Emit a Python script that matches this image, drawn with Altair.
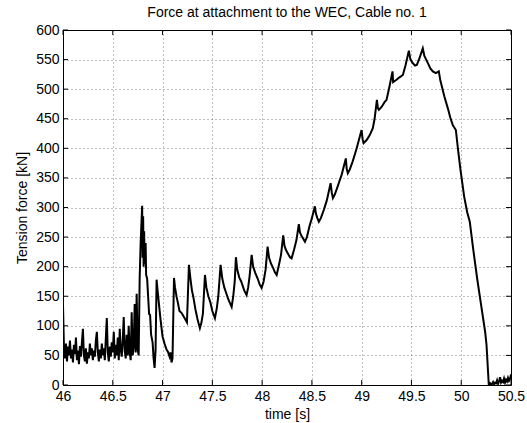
import altair as alt
import pandas as pd

# ---- data (time in s, force in kN) ----
time_pre = [46.00, 46.01, 46.02, 46.03, 46.04, 46.05, 46.06, 46.07, 46.08, 46.09,
            46.10, 46.11, 46.12, 46.13, 46.14, 46.15, 46.16, 46.17, 46.18, 46.19,
            46.20, 46.21, 46.22, 46.23, 46.24, 46.25, 46.26, 46.27, 46.28, 46.29,
            46.30, 46.31, 46.32, 46.33, 46.34, 46.35, 46.36, 46.37, 46.38, 46.39,
            46.40, 46.41, 46.42, 46.43, 46.44, 46.45, 46.46, 46.47, 46.48, 46.49,
            46.50, 46.51, 46.52, 46.53, 46.54, 46.55, 46.56, 46.57, 46.58, 46.59,
            46.60, 46.61, 46.62, 46.63, 46.64, 46.65, 46.66, 46.67, 46.68, 46.69,
            46.70, 46.71, 46.72, 46.73, 46.74, 46.75, 46.76, 46.77]
force_pre = [135, 60, 45, 70, 40, 65, 50, 75, 45, 60,
             38, 68, 52, 80, 42, 58, 35, 66, 48, 72,
             95, 50, 40, 62, 36, 55, 45, 70, 50, 62,
             42, 58, 48, 75, 90, 55, 40, 60, 45, 70,
             50, 62, 42, 78, 113, 55, 40, 65, 48, 72,
             55, 90, 45, 68, 50, 80, 42, 95, 60, 48,
             75, 115, 58, 45, 85, 50, 100, 55, 42, 123,
             50, 65, 137, 55, 154, 60, 50, 180]

time_peak = [46.78, 46.795, 46.80, 46.805, 46.81, 46.815, 46.82, 46.83, 46.835, 46.845,
             46.855, 46.865, 46.875, 46.885, 46.90, 46.91, 46.92, 46.93, 46.94, 46.95,
             46.965, 46.98, 47.00, 47.02, 47.04, 47.055, 47.07, 47.08, 47.09, 47.10]
force_peak = [240, 303, 215, 285, 200, 260, 205, 240, 186, 180,
              150, 120, 118, 85, 72, 45, 29, 60, 178, 160,
              135, 110, 82, 70, 60, 56, 48, 55, 38, 45]

time_ramp = [47.115, 47.125, 47.14, 47.155, 47.17, 47.19, 47.205, 47.225, 47.245, 47.265,
             47.28, 47.295, 47.31, 47.33, 47.35, 47.375, 47.39, 47.405, 47.426, 47.44,
             47.46, 47.48, 47.50, 47.526, 47.545, 47.56, 47.583, 47.60, 47.62, 47.64,
             47.66, 47.694, 47.71, 47.725, 47.737, 47.75, 47.77, 47.79, 47.82, 47.844,
             47.86, 47.875, 47.895, 47.91, 47.93, 47.955, 47.975, 47.995, 48.015, 48.035,
             48.055, 48.07, 48.09, 48.11, 48.13, 48.146, 48.165, 48.19, 48.212, 48.225,
             48.24, 48.26, 48.28, 48.296, 48.32, 48.345, 48.369, 48.38, 48.395, 48.41,
             48.43, 48.45, 48.475, 48.50, 48.53, 48.54, 48.555, 48.57, 48.59, 48.62,
             48.65, 48.688, 48.70, 48.711, 48.73, 48.76, 48.80, 48.841, 48.85, 48.861,
             48.88, 48.91, 48.95, 48.999, 49.01, 49.02, 49.05, 49.08, 49.112, 49.13,
             49.153, 49.163, 49.173, 49.20, 49.23, 49.25, 49.28, 49.31, 49.316, 49.35,
             49.38, 49.414, 49.44, 49.474, 49.49, 49.514, 49.535, 49.554, 49.58, 49.614,
             49.63, 49.665, 49.69, 49.715, 49.745, 49.775]
force_ramp = [181, 165, 150, 138, 125, 122, 118, 112, 106, 203,
              180, 160, 148, 128, 112, 96, 105, 120, 186, 165,
              150, 140, 125, 113, 130, 150, 203, 180, 165, 155,
              145, 132, 150, 175, 216, 195, 182, 175, 160, 152,
              165, 185, 220, 200, 190, 180, 170, 164, 175, 195,
              234, 215, 205, 198, 190, 186, 200, 220, 253, 235,
              228, 222, 216, 214, 228, 245, 272, 258, 252, 248,
              242, 250, 268, 282, 302, 290, 282, 276, 282, 296,
              312, 341, 325, 316, 322, 336, 356, 383, 365, 358,
              364, 378, 400, 431, 415, 409, 414, 422, 434, 450,
              482, 468, 465, 470, 478, 482, 505, 530, 512, 516,
              520, 524, 540, 565, 550, 544, 540, 541, 552, 569,
              556, 544, 535, 530, 527, 530]

time_drop = [49.79, 49.802, 49.83, 49.865, 49.89, 49.916, 49.935, 49.946, 49.97, 49.993,
             50.03, 50.06, 50.086, 50.12, 50.16, 50.20, 50.24, 50.254, 50.277,
             50.29, 50.30, 50.31, 50.32, 50.33, 50.34, 50.35, 50.36, 50.37, 50.38,
             50.39, 50.40, 50.41, 50.42, 50.43, 50.44, 50.45, 50.46, 50.47, 50.48,
             50.49, 50.50]
force_drop = [515, 507, 488, 468, 452, 439, 434, 431, 395, 363,
              318, 292, 276, 230, 180, 135, 90, 68, 0,
              3, 0, 2, 5, 1, 4, 3, 8, 2, 6,
              13, 4, 7, 5, 11, 4, 9, 6, 12, 7,
              10, 18]

x_ticks = [46, 46.5, 47, 47.5, 48, 48.5, 49, 49.5, 50, 50.5]
y_ticks = [0, 50, 100, 150, 200, 250, 300, 350, 400, 450, 500, 550, 600]

title_text = "Force at attachment to the WEC, Cable no. 1"
x_title = "time [s]"
y_title = "Tension force [kN]"

# ---- build tables ----
df = pd.DataFrame({
    "t": time_pre + time_peak + time_ramp + time_drop,
    "f": force_pre + force_peak + force_ramp + force_drop,
})
xt = pd.DataFrame({"t": x_ticks})
yt = pd.DataFrame({"f": y_ticks})

W, H = 448, 355
FONT = "Liberation Sans"
xscale = alt.Scale(domain=[46, 50.5], nice=False, zero=False)
yscale = alt.Scale(domain=[0, 600], nice=False, zero=False)

grid_common = dict(grid=True, gridColor="#000000", gridOpacity=0.5, gridDash=[1, 3],
                   gridWidth=1, domain=False, ticks=False, labelFont=FONT, labelFontSize=14,
                   labelColor="black", titleFont=FONT, titleFontSize=14, titleFontWeight="normal",
                   titleColor="black")

xaxis = alt.Axis(values=x_ticks, title=x_title, labelPadding=4, titlePadding=4,
                 labelFlush=False, labelOverlap=False, labelBound=False,
                 format="~g", **grid_common)
yaxis = alt.Axis(values=y_ticks, title=y_title, labelPadding=4, titlePadding=6,
                 labelOverlap=False, labelFlush=False, format="d", **grid_common)

line = alt.Chart(df).mark_line(color="black", strokeWidth=2, clip=True).encode(
    x=alt.X("t:Q", scale=xscale, axis=xaxis),
    y=alt.Y("f:Q", scale=yscale, axis=yaxis),
)

tick_len = 5
top_ticks = alt.Chart(xt).mark_rule(color="black", strokeWidth=1).encode(
    x=alt.X("t:Q", scale=xscale, axis=xaxis), y=alt.value(0), y2=alt.value(tick_len))
bot_ticks = alt.Chart(xt).mark_rule(color="black", strokeWidth=1).encode(
    x=alt.X("t:Q", scale=xscale, axis=xaxis), y=alt.value(H - tick_len), y2=alt.value(H))
left_ticks = alt.Chart(yt).mark_rule(color="black", strokeWidth=1).encode(
    y=alt.Y("f:Q", scale=yscale, axis=yaxis), x=alt.value(0), x2=alt.value(tick_len))
right_ticks = alt.Chart(yt).mark_rule(color="black", strokeWidth=1).encode(
    y=alt.Y("f:Q", scale=yscale, axis=yaxis), x=alt.value(W - tick_len), x2=alt.value(W))

chart = alt.layer(line, top_ticks, bot_ticks, left_ticks, right_ticks).properties(
    width=W, height=H,
    title=alt.Title(title_text, font=FONT, fontSize=14, fontWeight="normal", color="black",
                    anchor="middle", offset=3),
    padding={"left": 63, "top": 30, "right": 16, "bottom": 38},
    autosize=alt.AutoSizeParams(type="none"),
    background="white",
).configure_view(stroke="black", strokeWidth=1)

chart.save("out.html", embed_options={"renderer": "svg", "actions": False})
